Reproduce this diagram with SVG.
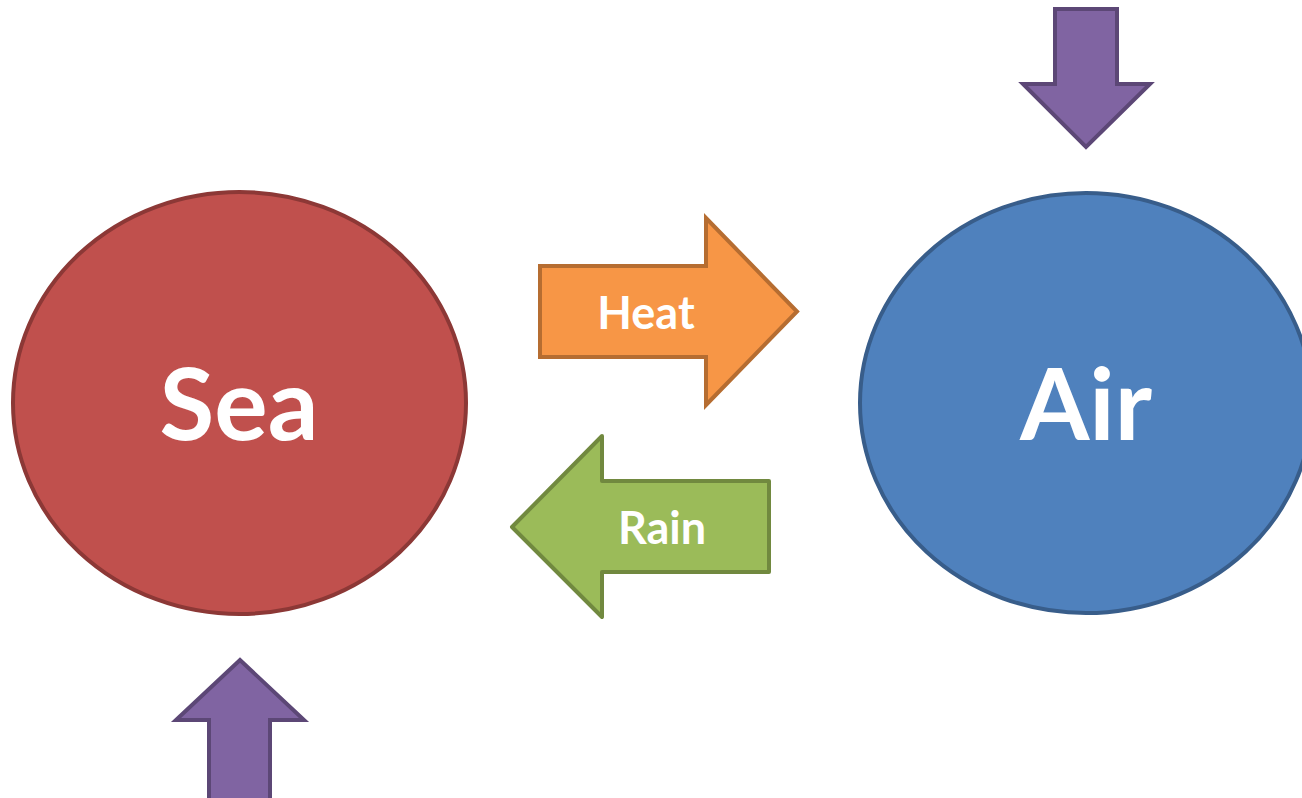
<svg xmlns="http://www.w3.org/2000/svg" width="1302" height="798" viewBox="0 0 1302 798">
<style>
.lbl{font-family:Lato,"Open Sans","Liberation Sans",sans-serif;font-weight:bold;fill:#FFFFFF;text-anchor:middle}
.big{font-size:100px}
.small{font-size:45px}
.sw{stroke-width:4}
</style>
<rect width="1302" height="798" fill="#FFFFFF"/>
<g id="sea">
<ellipse cx="239.5" cy="403" rx="226.5" ry="211" fill="#C0504D" stroke="#8C3836" class="sw"/>
<text class="lbl big" x="239" y="440">Sea</text>
</g>
<g id="air">
<ellipse cx="1086" cy="403" rx="226" ry="210" fill="#4F81BD" stroke="#385D8A" class="sw"/>
<text class="lbl big" x="1086" y="440">Air</text>
</g>
<g id="connectors">
<g id="heat">
<polygon points="540,266 706,266 706,218 797,311.5 706,405 706,357 540,357" fill="#F79646" stroke="#B66D31" class="sw"/>
<text class="lbl small" x="646" y="329">Heat</text>
</g>
<g id="rain">
<polygon points="769,481 602,481 602,436 512,527 602,617 602,572 769,572" fill="#9BBB59" stroke="#71893F" stroke-linejoin="round" class="sw"/>
<text class="lbl small" x="662" y="544">Rain</text>
</g>
<g id="in-air">
<polygon points="1055,9 1117,9 1117,84 1150,84 1086,147 1023,84 1055,84" fill="#8064A2" stroke="#5C4776" class="sw"/>
</g>
<g id="in-sea">
<polygon points="209,802 209,720 176,720 240,660 304,720 270,720 270,802" fill="#8064A2" stroke="#5C4776" class="sw"/>
</g>
</g>
</svg>
